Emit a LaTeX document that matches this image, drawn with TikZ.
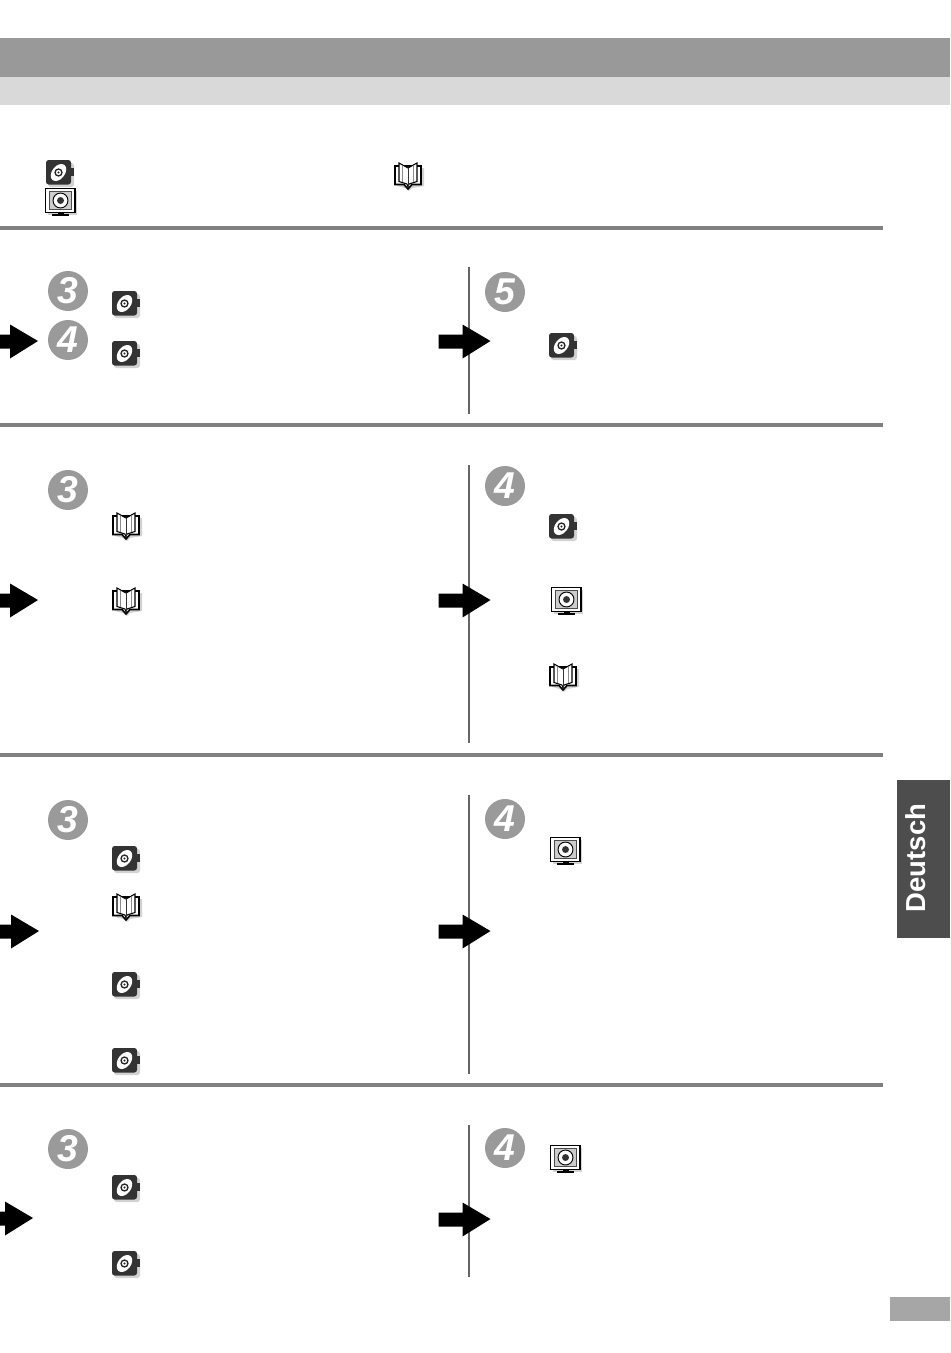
\documentclass[tikz,border=0pt]{standalone}
\usepackage{xcolor}
\usepackage{fontspec}
\setmainfont{Liberation Sans}
\usepackage{tikz}
\usetikzlibrary{positioning, calc}
\definecolor{bandgrey}{HTML}{999999}
\definecolor{subgrey}{HTML}{D9D9D9}
\definecolor{rulegrey}{HTML}{808080}
\definecolor{stepgrey}{HTML}{9A9A9A}
\definecolor{tabgrey}{HTML}{4D4D4D}
\definecolor{discgrey}{HTML}{333333}
\definecolor{shadegrey}{HTML}{D2D2D2}
\tikzset{
	stepnum/.style={circle, fill=stepgrey, minimum size=30pt, inner sep=0pt, text=white, font=\bfseries\itshape\fontsize{28}{28}\selectfont},
	rowrule/.style={fill=rulegrey, draw=none},
	colrule/.style={draw=black!60, line width=0.85pt}
}
% fat arrow, tip at (#1,#2)
\newcommand{\fatarrow}[2]{
	\fill[black] (#1,#2) -- ++(-28,-16.5) -- ++(0,10) -- ++(-24,0) -- ++(0,14) -- ++(24,0) -- ++(0,10) -- cycle;
}
\newcommand{\discicon}[2]{
	\begin{scope}[shift={(#1,#2)}]
		\fill[shadegrey, rounded corners=2pt] (-11,-9) rectangle (15,15);
		\fill[discgrey, rounded corners=2pt] (-13,-12) rectangle (12,12.5);
		\fill[discgrey] (10,-4) rectangle (14.5,4);
		\fill[white] (-0.5,0.5) ellipse [x radius=7.2pt, y radius=4.8pt, rotate=52];
		\draw[black!85, line width=1pt] (-0.5,0.5) circle (2.6pt);
		\fill[black!85] (-0.5,0.5) circle (0.8pt);
	\end{scope}
}
\newcommand{\monitoricon}[2]{
	\begin{scope}[shift={(#1,#2)}]
		\fill[shadegrey] (-12,-11) rectangle (17,13);
		\draw[black, line width=1.2pt, fill=white] (-14.5,-13.5) rectangle (15,10.5);
		\draw[black!70, line width=0.5pt, fill=black!20] (-11,-10.5) rectangle (11.5,7.5);
		\draw[black, line width=0.7pt, fill=white] (0.5,-1.5) circle (5.6pt);
		\fill[black!80] (0.5,-1.5) circle (2.6pt);
		\fill[black] (-2.5,10) rectangle (3.5,12);
		\fill[black] (-8,12) rectangle (9,14);
	\end{scope}
}
\newcommand{\bookicon}[2]{
	\begin{scope}[shift={(#1,#2)}]
		\fill[shadegrey] (-11,-8) -- (16,-8) -- (16,10) -- (4,12) -- (1,15) -- (-3,12) -- (-11,10) -- cycle;
		\draw[black, line width=1.2pt, fill=white] (-13,-10) -- (-13,8.5) -- (-4,8.5) -- (0,13) -- (4,8.5) -- (13,8.5) -- (13,-10) -- cycle;
		\draw[black, line width=0.8pt, fill=white] (-9,-13) -- (-9,5.5) -- (-1,8) -- (0,11) -- (1,8) -- (9,5.5) -- (9,-13) -- (0,-8) -- cycle;
		\draw[black!80, line width=0.6pt] (0,-8) -- (0,11);
		\draw[black!45, line width=0.4pt] (-5.5,-10.5) -- (-5.5,6) (5.5,-10.5) -- (5.5,6);
	\end{scope}
}

\begin{document}
\begin{tikzpicture}[x=0.75pt, y=-0.75pt]
	\useasboundingbox (0,0) rectangle (950,1353);
	\fill[bandgrey] (0,38) rectangle (950,77);
	\fill[subgrey] (0,77) rectangle (950,105);
	
	\discicon{59}{172}
	\bookicon{408}{176}
	\monitoricon{60}{202}
	
	\fill[rowrule] (0,226) rectangle (883,230);
	\fill[rowrule] (0,423) rectangle (883,427);
	\fill[rowrule] (0,753) rectangle (883,757);
	\fill[rowrule] (0,1083) rectangle (883,1087);
	
	\draw[colrule] (469,267) -- (469,414);
	\draw[colrule] (469,465) -- (469,743);
	\draw[colrule] (469,795) -- (469,1074);
	\draw[colrule] (469,1125) -- (469,1277);
	
	\node[stepnum] (rowathree) at (68,291) {3};
	\node[stepnum] (rowafour) at (68,340) {4};
	\node[stepnum] (rowafive) at (505,292) {5};
	\fatarrow{38}{341}
	\fatarrow{490.5}{341}
	\discicon{125}{303}
	\discicon{125}{353}
	\discicon{562}{345}
	
	\node[stepnum] (rowbthree) at (68,490) {3};
	\node[stepnum] (rowbfour) at (505,486) {4};
	\fatarrow{38}{600}
	\fatarrow{490.5}{600}
	\bookicon{126}{526}
	\bookicon{126}{601}
	\discicon{562}{526}
	\monitoricon{566}{601}
	\bookicon{563}{677}
	
	\node[stepnum] (rowcthree) at (68,820) {3};
	\node[stepnum] (rowcfour) at (505,819) {4};
	\fatarrow{39}{931}
	\fatarrow{490.5}{931}
	\discicon{125}{858}
	\bookicon{126}{907}
	\discicon{125}{984}
	\discicon{125}{1060}
	\monitoricon{565}{851}
	
	\node[stepnum] (rowdthree) at (68,1149) {3};
	\node[stepnum] (rowdfour) at (505,1148) {4};
	\fatarrow{33}{1218}
	\fatarrow{490.5}{1219}
	\discicon{125}{1187}
	\discicon{125}{1263}
	\monitoricon{565}{1159}
	
	\fill[tabgrey] (897,780) rectangle (950,938);
	\node[text=white, rotate=90, font=\bfseries\fontsize{20.6}{21}\selectfont] (langtab) at (915.5,858) {Deutsch};
	\fill[black!35] (890,1297) rectangle (950,1321);
\end{tikzpicture}
\end{document}
